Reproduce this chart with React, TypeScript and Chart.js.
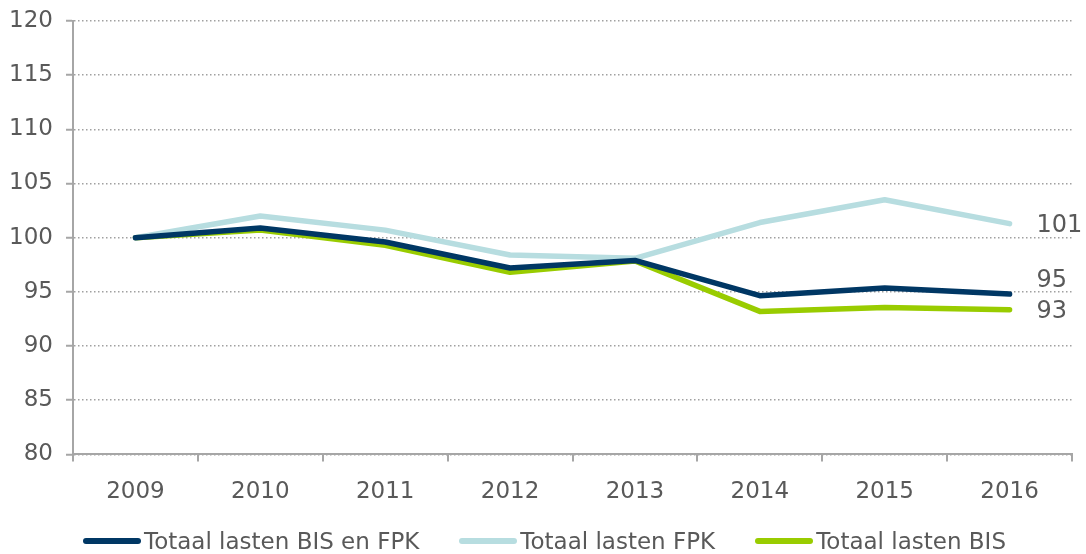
import React, { useEffect, useRef } from "react";
import { Chart, registerables } from "chart.js";

Chart.register(...registerables);

const years = ["2009", "2010", "2011", "2012", "2013", "2014", "2015", "2016"];
const totaalBisFpk = [100, 100.9, 99.6, 97.2, 97.9, 94.65, 95.35, 94.8];
const totaalFpk = [100, 102.0, 100.7, 98.4, 98.1, 101.4, 103.5, 101.3];
const totaalBis = [100, 100.7, 99.3, 96.8, 97.85, 93.2, 93.55, 93.35];
const seriesNames = ["Totaal lasten BIS en FPK", "Totaal lasten FPK", "Totaal lasten BIS"];
const seriesColors = ["#003764", "#b7dde0", "#99cc00"];
const endLabelShift = [-13, 2, 2];

const FONT = "'DejaVu Sans', Verdana, sans-serif";
const TEXT = "#595959";
const AXIS = "#a6a6a6";

const endLabels = {
  id: "endLabels",
  afterDatasetsDraw(chart: any) {
    const ctx = chart.ctx;
    ctx.save();
    ctx.font = `24px ${FONT}`;
    ctx.fillStyle = TEXT;
    ctx.textAlign = "left";
    ctx.textBaseline = "middle";
    chart.data.datasets.forEach((ds: any, i: number) => {
      const meta = chart.getDatasetMeta(i);
      const last = meta.data[meta.data.length - 1];
      const v = ds.data[ds.data.length - 1];
      ctx.fillText(String(Math.round(v)), last.x + 27, last.y + endLabelShift[i]);
    });
    ctx.restore();
  },
};

export default function App() {
  const ref = useRef<HTMLCanvasElement>(null);
  useEffect(() => {
    const data = [totaalBisFpk, totaalFpk, totaalBis];
    const chart = new Chart(ref.current!, {
      type: "line",
      data: {
        labels: years,
        datasets: data.map((d, i) => ({
          label: seriesNames[i],
          data: d,
          borderColor: seriesColors[i],
          backgroundColor: seriesColors[i],
          borderWidth: 5.5,
          pointRadius: 0,
          tension: 0,
          borderCapStyle: "round" as const,
          borderJoinStyle: "round" as const,
        })),
      },
      options: {
        animation: false,
        responsive: false,
        devicePixelRatio: 1,
        layout: { autoPadding: false, padding: { top: 21, right: 14, left: 0, bottom: 31 } },
        plugins: {
          tooltip: { enabled: false },
          legend: { display: false },
        },
        scales: {
          x: {
            offset: true,
            grid: {
              display: true,
              offset: true,
              drawOnChartArea: false,
              drawTicks: true,
              tickLength: 7,
              color: AXIS,
              lineWidth: 2,
            },
            border: { display: true, color: AXIS, width: 2 },
            ticks: { font: { family: FONT, size: 23 }, color: TEXT, padding: 17 },
          },
          y: {
            min: 80,
            max: 120,
            afterFit: (s: any) => {
              s.width = 73;
              s.paddingTop = 0;
              s.paddingBottom = 0;
            },
            ticks: { stepSize: 5, font: { family: FONT, size: 23 }, color: TEXT, padding: 13 },
            grid: {
              color: "#a0a0a0",
              lineWidth: 1.5,
              tickLength: 7,
              tickColor: AXIS,
              tickWidth: 2,
              tickBorderDash: [],
            },
            border: { display: true, color: AXIS, width: 2, dash: [1.5, 2.5] },
          },
        },
      },
      plugins: [endLabels],
    });
    return () => chart.destroy();
  }, []);
  return (
    <div style={{ position: "fixed", left: 0, top: 0, width: 1086, height: 554, background: "#fff" }}>
      <canvas ref={ref} width={1086} height={554} style={{ width: 1086, height: 554, display: "block" }} />
      <div
        style={{
          position: "absolute",
          left: 83,
          top: 527,
          height: 28,
          display: "flex",
          alignItems: "center",
          fontFamily: FONT,
          fontSize: 23,
          color: TEXT,
          whiteSpace: "nowrap",
        }}
      >
        {seriesNames.map((name, i) => (
          <div key={name} style={{ display: "flex", alignItems: "center", marginRight: 40 }}>
            <span
              style={{
                display: "inline-block",
                width: 58,
                height: 6,
                borderRadius: 3,
                background: seriesColors[i],
                marginRight: 3,
              }}
            />
            <span>{name}</span>
          </div>
        ))}
      </div>
    </div>
  );
}
